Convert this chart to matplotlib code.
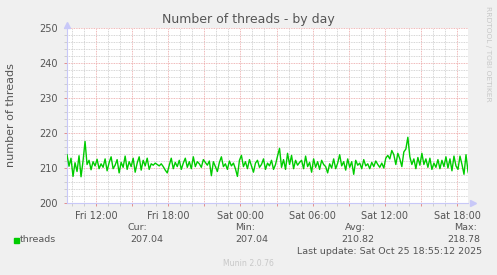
import numpy as np
import matplotlib
matplotlib.use("Agg")
import matplotlib.pyplot as plt
from matplotlib.ticker import MultipleLocator, FixedLocator

# threads, one sample every 10 minutes, Fri 09:35 -> Sat 18:55
threads = [
    213.8, 210.5, 212.8, 207.6, 211.5, 209.0, 213.5, 207.5, 212.0, 217.6, 211.0,
    212.2, 209.5, 211.8, 210.6, 212.5, 209.8, 211.2, 210.2, 212.6, 209.2,
    211.5, 213.2, 209.8, 210.8, 212.4, 208.6, 211.6, 210.2, 213.4, 209.6,
    211.8, 210.4, 212.8, 208.8, 211.4, 213.2, 209.4, 212.2, 210.6, 212.8,
    209.6, 211.2, 210.8, 211.4, 211.0, 210.6, 211.2, 210.4, 209.4, 208.6,
    210.8, 212.8, 209.8, 211.6, 210.4, 212.2, 209.6, 211.4, 212.8, 210.2,
    211.8, 209.8, 213.2, 210.4, 211.8, 211.2, 210.2, 212.4, 211.6, 210.8,
    212.0, 207.8, 211.8, 210.4, 209.0, 211.6, 213.2, 210.4, 211.2, 209.6,
    212.0, 210.6, 211.4, 209.8, 207.6, 212.2, 213.6, 210.4, 211.8, 209.8,
    212.4, 210.6, 208.8, 211.4, 212.2, 210.2, 211.0, 212.6, 209.6, 211.4,
    210.6, 212.2, 209.6, 211.0, 213.4, 215.6, 210.2, 212.4, 209.6, 214.2,
    211.0, 213.6, 209.8, 212.2, 210.8, 211.6, 212.2, 209.8, 213.4, 210.4,
    211.6, 208.8, 212.6, 210.2, 211.8, 209.6, 212.2, 211.0, 210.4, 208.6,
    211.2, 210.0, 212.6, 209.8, 211.4, 213.8, 210.6, 211.8, 209.4, 212.6,
    210.2, 211.8, 208.2, 212.2, 210.8, 211.4, 209.8, 212.4, 210.6, 211.2,
    209.8, 211.6, 210.4, 212.0, 211.0, 210.2, 211.4, 210.0, 212.8, 213.6,
    212.6, 215.0, 213.8, 211.0, 214.2, 212.6, 210.4, 214.6, 215.4, 218.78,
    213.2, 211.0, 212.6, 209.8, 213.0, 210.8, 214.2, 211.0, 212.6, 210.2,
    212.8, 209.6, 211.4, 210.2, 212.4, 209.8, 212.2, 210.4, 213.2, 210.0,
    212.6, 209.2, 213.4, 210.6, 209.6, 213.4, 211.0, 208.2, 213.8, 209.0, 207.04,
]
start_hour = 9 + 35 / 60.0  # hours since Fri 00:00
tick_hours = [12, 18, 24, 30, 36, 42]
tick_labels = ["Fri 12:00", "Fri 18:00", "Sat 00:00", "Sat 06:00", "Sat 12:00", "Sat 18:00"]
stats_names = ["Cur:", "Min:", "Avg:", "Max:"]
stats_values = ["207.04", "207.04", "210.82", "218.78"]

hours = start_hour + np.arange(len(threads)) / 6.0

W, H = 497, 275
def px(x, y):
    return x / W, 1 - y / H

fig = plt.figure(figsize=(4.97, 2.75), dpi=100, facecolor="#f0f0f0")
ax = fig.add_axes([67 / W, 1 - 203 / H, (468 - 67) / W, (203 - 28) / H])
ax.set_facecolor("white")

ax.plot(hours, threads, color="#00cc00", lw=1.0, zorder=3)
ax.set_xlim(start_hour, start_hour + 400 / 12.0)
ax.set_ylim(200, 250)

# grids: red dotted major, grey dotted minor
ax.xaxis.set_major_locator(MultipleLocator(3))
ax.xaxis.set_minor_locator(MultipleLocator(1))
ax.yaxis.set_major_locator(MultipleLocator(10))
ax.yaxis.set_minor_locator(MultipleLocator(2))
ax.grid(which="minor", color="#c8c8c8", lw=0.6, ls=(0, (1, 1)), zorder=1)
ax.grid(which="major", color="#eaa0a0", lw=0.6, ls=(0, (1, 1)), zorder=2)

ax.set_xticks(tick_hours, tick_labels, minor=False)
ax.xaxis.set_major_locator(FixedLocator(np.arange(12, 43, 3)))
ax.set_xticklabels([tick_labels[tick_hours.index(h)] if h in tick_hours else "" for h in range(12, 43, 3)])
ax.tick_params(which="both", labelsize=7, labelcolor="#555555", length=2, width=0.6)
ax.tick_params(which="major", color="#e08080")
ax.tick_params(which="minor", color="#c8c8c8")
ax.tick_params(axis="x", pad=4)
ax.tick_params(axis="y", pad=4.5)

for s in ["top", "right"]:
    ax.spines[s].set_visible(False)
for s in ["left", "bottom"]:
    ax.spines[s].set_color("#c8c8f8")
    ax.spines[s].set_linewidth(0.8)
ax.plot([0], [1.02], marker="^", color="#c8c8f8", ms=4, transform=ax.transAxes, clip_on=False)
ax.plot([1.012], [0], marker=">", color="#c8c8f8", ms=4, transform=ax.transAxes, clip_on=False)

fig.text(*px(248, 19), "Number of threads - by day", ha="center", va="center", fontsize=9, color="#555555")
fig.text(*px(11, 115), "number of threads", ha="center", va="center", rotation=90, fontsize=8, color="#555555")
fig.text(*px(488, 54), "RRDTOOL / TOBI OETIKER", ha="center", va="center", rotation=270, fontsize=5.4, color="#c8c8c8")

# legend row
fig.patches.append(plt.Rectangle(px(14, 243), 5 / W, 5 / H, transform=fig.transFigure, color="#00cc00"))
fig.text(*px(20, 240), "threads", ha="left", va="center", fontsize=6.8, color="#555555")
name_x = [137.5, 245.5, 355, 465.5]
val_x = [146.5, 252, 358, 463.5]
for n, v, nx, vx in zip(stats_names, stats_values, name_x, val_x):
    fig.text(*px(nx, 228), n, ha="center", va="center", fontsize=6.8, color="#555555")
    fig.text(*px(vx, 240), v, ha="center", va="center", fontsize=6.8, color="#555555")
fig.text(*px(482, 251.5), "Last update: Sat Oct 25 18:55:12 2025", ha="right", va="center", fontsize=6.8, color="#555555")
fig.text(*px(248, 264), "Munin 2.0.76", ha="center", va="center", fontsize=5.6, color="#c8c8c8")

fig.savefig("out.png", dpi=100, facecolor=fig.get_facecolor())
